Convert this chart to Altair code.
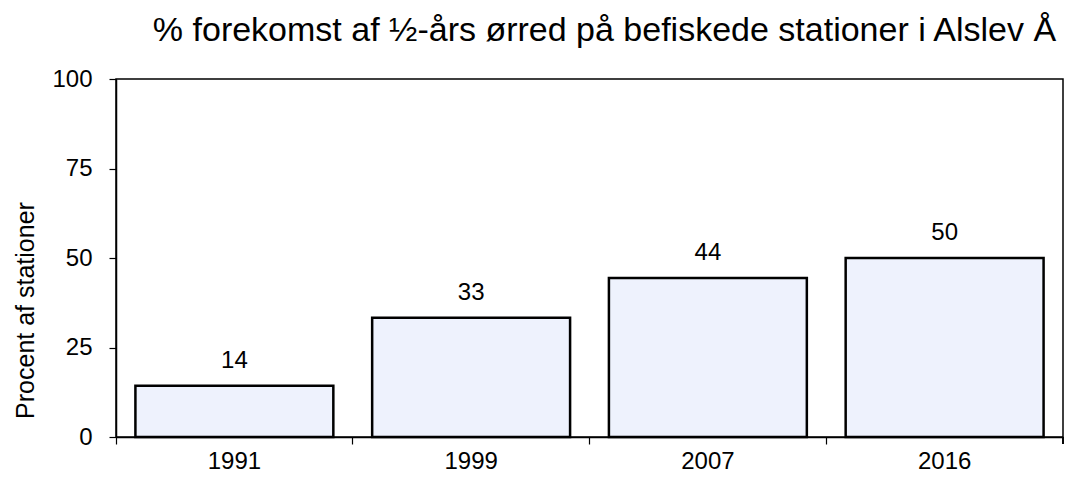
import altair as alt
import pandas as pd

years = ["1991", "1999", "2007", "2016"]
percent = [14.3, 33.3, 44.4, 50.0]
y_ticks = [0, 25, 50, 75, 100]

title_text = "% forekomst af ½-års ørred på befiskede stationer i Alslev Å"
y_title = "Procent af stationer"

df = pd.DataFrame({"year": years, "pct": percent})

FONT = "Liberation Sans"
W, H = 947, 358

x_enc = alt.X(
    "year:N",
    sort=years,
    scale=alt.Scale(paddingInner=0, paddingOuter=0),
    axis=alt.Axis(
        title=None, labelAngle=0, bandPosition=0, tickSize=7, tickColor="black",
        domainColor="black", domainWidth=1.5, tickWidth=1.2,
        labelFontSize=24, labelFont=FONT, labelColor="black", labelPadding=5,
    ),
)
y_enc = alt.Y(
    "pct:Q",
    scale=alt.Scale(domain=[0, 100], nice=False),
    axis=alt.Axis(
        title=y_title, values=y_ticks, grid=False, tickSize=7, tickColor="black",
        domainColor="black", domainWidth=1.5, tickWidth=1.2,
        labelFontSize=24, labelFont=FONT, labelColor="black", labelPadding=17,
        titleFontSize=25, titleFont=FONT, titleFontWeight="normal", titleColor="black",
        titleX=-83, titleY=231, titleAngle=270, titleAlign="center",
        titleBaseline="alphabetic",
    ),
)

bars = alt.Chart(df).mark_bar(
    fill="#eef2fd", stroke="black", strokeWidth=2.5,
    width=alt.RelativeBandSize(0.836),
).encode(x=x_enc, y=y_enc)

labels = alt.Chart(df).mark_text(
    font=FONT, fontSize=24, color="black", baseline="alphabetic", dy=-18,
).encode(
    x=alt.X("year:N", sort=years),
    y="pct:Q",
    text=alt.Text("pct:Q", format=".0f"),
)

end_tick = alt.Chart(df).mark_rule(color="black", strokeWidth=1.2).encode(
    x=alt.value(W), y=alt.value(H), y2=alt.value(H + 7)
)

chart = alt.layer(bars, labels, end_tick).properties(
    width=W,
    height=H,
    title=alt.TitleParams(
        text=title_text, font=FONT, fontSize=34, fontWeight="normal", color="black",
        anchor="middle", dx=15, offset=19,
    ),
    background="white",
    autosize=alt.AutoSizeParams(type="none"),
    padding={"left": 108, "top": 71, "right": 3, "bottom": 36},
).configure_view(
    stroke="black", strokeWidth=1.5
)

chart.save("out.html", embed_options={"renderer": "svg", "actions": False})
